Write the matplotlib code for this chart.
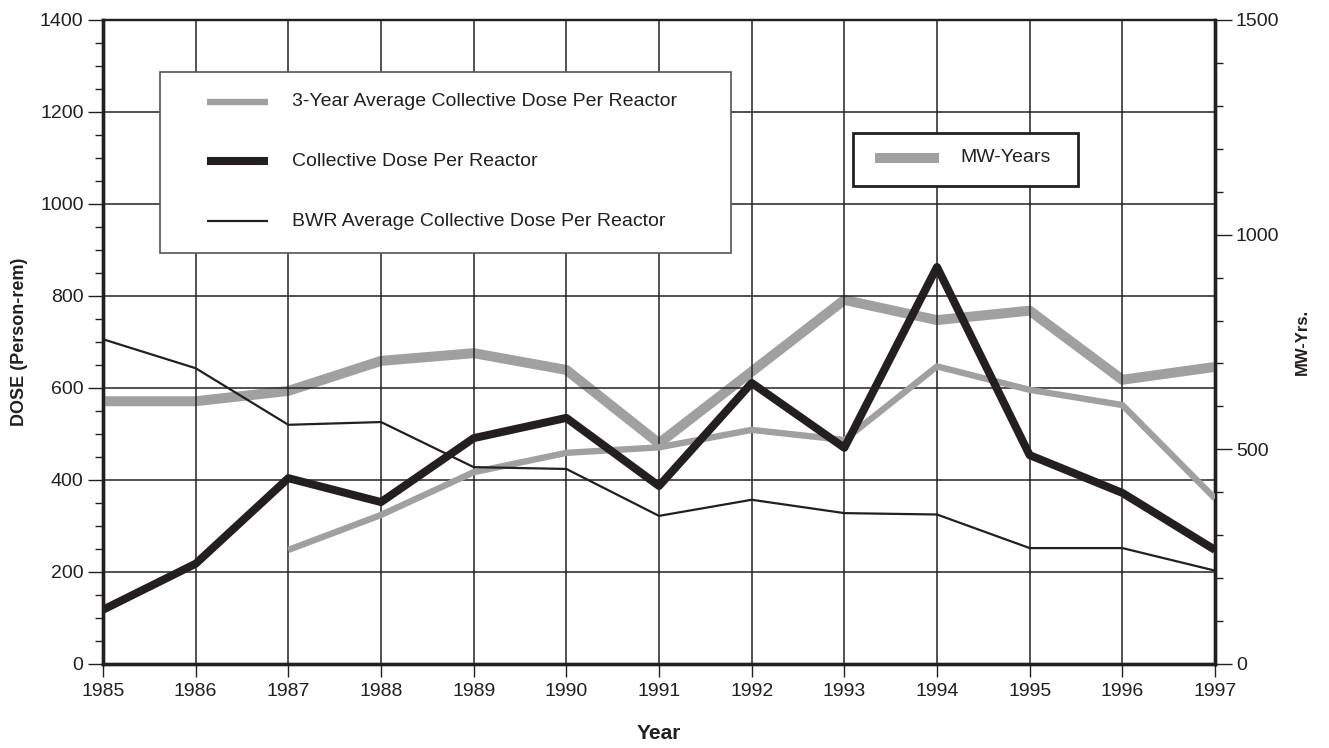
import matplotlib
matplotlib.use("Agg")
import matplotlib.pyplot as plt
from matplotlib.lines import Line2D
from matplotlib.patches import Rectangle
from matplotlib.ticker import MultipleLocator

years = list(range(1985, 1998))
collective_dose = [118, 218, 404, 352, 491, 535, 387, 611, 470, 863, 454, 372, 248]
bwr_average = [706, 643, 520, 526, 428, 424, 322, 357, 328, 325, 252, 252, 203]
avg_years = list(range(1987, 1998))
three_year_avg = [248, 324, 417, 459, 471, 509, 487, 647, 596, 563, 360]
mw_years = [612, 612, 636, 706, 724, 685, 514, 681, 848, 801, 823, 662, 692]

plt.rcParams['font.family'] = ['Liberation Sans', 'DejaVu Sans']
GRAY = "#a0a0a0"
BLACK = "#231f20"

W, H = 1329, 748
fig = plt.figure(figsize=(W / 100, H / 100), dpi=100)
ax = fig.add_axes([103 / W, 1 - 664 / H, 1112 / W, 644 / H])
ax2 = ax.twinx()

ax.set_xlim(1985, 1997)
ax.set_ylim(0, 1400)
ax2.set_ylim(0, 1500)

ax.set_xticks(years)
ax.set_yticks(range(0, 1401, 200))
ax.yaxis.set_minor_locator(MultipleLocator(50))
ax2.set_yticks([0, 500, 1000, 1500])
ax2.yaxis.set_minor_locator(MultipleLocator(100))

ax.grid(True, which='major', color='#222222', linewidth=1.1)
ax.set_axisbelow(True)

ax2.plot(years, mw_years, color=GRAY, lw=7.2, solid_capstyle='butt', zorder=3)
ax.plot(avg_years, three_year_avg, color=GRAY, lw=4.6, solid_capstyle='butt', zorder=3)
ax.plot(years, bwr_average, color=BLACK, lw=1.6, zorder=4)
ax.plot(years, collective_dose, color=BLACK, lw=5.8, solid_capstyle='butt', zorder=5)
ax.set_zorder(ax2.get_zorder() + 1)
ax.patch.set_visible(False)

for a in (ax, ax2):
    for s in a.spines.values():
        s.set_color(BLACK)
    a.spines['left'].set_linewidth(2.4)
    a.spines['right'].set_linewidth(2.4)
    a.spines['bottom'].set_linewidth(2.4)
    a.spines['top'].set_linewidth(1.6)

ax.tick_params(axis='y', which='major', direction='out', length=11, width=1.0, labelsize=14, colors=BLACK, pad=3)
ax.tick_params(axis='y', which='minor', direction='out', length=6, width=1.0, colors=BLACK)
ax.tick_params(axis='x', which='major', direction='out', length=9, width=1.0, labelsize=14, colors=BLACK, pad=5)
ax2.tick_params(axis='y', which='major', direction='out', length=12, width=1.0, labelsize=14, colors=BLACK, pad=3)
ax2.tick_params(axis='y', which='minor', direction='out', length=6, width=1.0, colors=BLACK)

ax.set_xlabel("Year", fontsize=15, fontweight='bold', color=BLACK)
ax.xaxis.set_label_coords(0.5, -0.093)
ax.set_ylabel("DOSE (Person-rem)", fontsize=13, fontweight='bold', color=BLACK)
ax.yaxis.set_label_coords(-0.067, 0.5)
ax2.set_ylabel("MW-Yrs.", fontsize=12, fontweight='bold', color=BLACK)
ax2.yaxis.set_label_coords(1.072, 0.5)


def fx(x):
    return x / W


def fy(y):
    return 1 - y / H


fig.add_artist(Rectangle((fx(160), fy(253)), fx(731) - fx(160), fy(72) - fy(253),
                         transform=fig.transFigure, facecolor='white', edgecolor='#555555', lw=1.2, zorder=10))
legend1 = [("3-Year Average Collective Dose Per Reactor", GRAY, 4.6, 102),
           ("Collective Dose Per Reactor", BLACK, 5.8, 161),
           ("BWR Average Collective Dose Per Reactor", BLACK, 1.6, 221)]
for label, col, lw, yy in legend1:
    fig.add_artist(Line2D([fx(207), fx(268)], [fy(yy), fy(yy)], color=col, lw=lw,
                          solid_capstyle='butt', transform=fig.transFigure, zorder=11))
    fig.text(fx(292), fy(yy), label, fontsize=14, color=BLACK, va='center', ha='left', zorder=12)

fig.add_artist(Rectangle((fx(853), fy(186)), fx(1078) - fx(853), fy(133) - fy(186),
                         transform=fig.transFigure, facecolor='white', edgecolor=BLACK, lw=2.0, zorder=10))
fig.add_artist(Line2D([fx(875), fx(939)], [fy(158), fy(158)], color=GRAY, lw=7.2,
                      solid_capstyle='butt', transform=fig.transFigure, zorder=11))
fig.text(fx(960), fy(157), "MW-Years", fontsize=14, color=BLACK, va='center', ha='left', zorder=12)

fig.savefig("out.png", dpi=100)
